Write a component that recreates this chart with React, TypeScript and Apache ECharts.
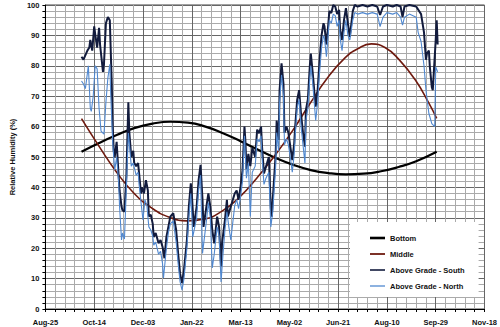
import React, { useEffect, useRef } from "react";
import * as echarts from "echarts";

// Day offsets from Aug-25 (x axis ticks every 50 days)
const xLabels = ["Aug-25", "Oct-14", "Dec-03", "Jan-22", "Mar-13", "May-02", "Jun-21", "Aug-10", "Sep-29", "Nov-18"];

const bottomData: [number, number][] = [
  [37, 51.7], [55, 54.6], [73, 57.2], [91, 59.5], [110, 61.0], [128, 61.6], [146, 61.3], [164, 60.0],
  [182, 57.8], [200, 55.2], [218, 52.4], [236, 49.7], [254, 47.4], [272, 45.7], [290, 44.7], [308, 44.3],
  [326, 44.5], [344, 45.3], [362, 46.7], [380, 48.6], [401, 51.7],
];

const middleData: [number, number][] = [
  [37, 62.6], [55, 53.5], [73, 45.0], [91, 38.0], [109, 33.2], [127, 30.2], [145, 29.0], [163, 29.6],
  [181, 32.2], [199, 36.8], [217, 43.2], [235, 50.4], [253, 58.5], [271, 67.5], [289, 76.0], [307, 82.6],
  [320, 85.6], [334, 87.2], [348, 86.0], [362, 82.2], [379, 75.4], [393, 67.7], [401, 62.7],
];

const southData: [number, number][] = [
  [37, 83], [39, 82], [41, 83.5], [43, 85], [45, 86], [46, 88.5], [48, 85], [50, 93], [51, 90.5], [53, 86],
  [55, 92.5], [56, 87], [59, 78], [60, 80.5], [62, 94], [64, 96], [66, 95], [68, 74], [69, 60], [70, 52],
  [71, 50], [73, 55], [75, 44], [76, 39], [78, 33.7], [79, 32.5], [81, 32], [83, 44], [85, 68], [86, 58],
  [88, 50], [90, 52], [91, 48], [93, 47], [95, 48], [96, 44.6], [98, 38], [99, 40], [101, 38], [103, 42.4],
  [105, 39], [106, 30.4], [108, 31], [110, 28], [111, 23.7], [113, 25], [116, 21.6], [118, 22.7], [120, 20.5],
  [122, 16.7], [124, 23.7], [126, 27], [128, 30.4], [131, 31.5], [134, 26], [136, 18.3], [138, 11.7],
  [140, 8.5], [142, 12.8], [145, 22.7], [147, 33.7], [149, 41.3], [150, 38], [152, 27], [155, 33.7],
  [157, 42.4], [159, 47.4], [161, 35.9], [162, 27], [165, 33.7], [167, 38], [169, 33.7], [171, 26],
  [173, 21.6], [176, 30.4], [178, 27], [180, 14], [181, 21.6], [184, 29.3], [186, 35.9], [187, 30.4],
  [189, 32.6], [191, 34.8], [194, 38], [196, 39], [198, 35.9], [200, 40.2], [202, 45.7], [204, 60],
  [205, 55], [206, 46], [208, 51], [210, 47], [212, 53], [215, 50], [217, 59], [219, 57.8], [221, 60],
  [222, 53.4], [224, 44.6], [226, 46.8], [229, 50], [231, 33], [232, 30.4], [233, 36], [236, 51],
  [237, 62], [239, 55.6], [240, 72], [242, 80.8], [244, 74], [245, 58], [247, 60], [249, 58], [251, 53.4],
  [253, 49], [255, 54.5], [256, 60], [258, 68.8], [260, 72], [262, 64], [264, 58], [266, 53.4], [267, 65.5],
  [269, 69], [271, 80], [272, 84], [274, 77.5], [276, 70], [277, 66.6], [279, 72], [281, 82], [283, 90],
  [285, 94], [286, 93], [288, 87], [290, 94], [291, 98], [293, 97.4], [295, 100], [297, 99.5], [299, 97],
  [301, 98.4], [302, 92], [304, 88.5], [306, 95], [308, 99], [310, 94], [312, 89.5], [315, 98], [317, 100],
  [320, 99.5], [325, 100], [330, 99.5], [335, 100], [340, 99.5], [343, 96.7], [346, 99.5], [350, 100],
  [356, 99.5], [360, 100], [364, 99.5], [366, 96], [368, 99.5], [373, 100], [380, 99.5], [385, 97],
  [388, 91], [390, 82], [391, 84], [393, 85], [394, 79.6], [396, 73], [397, 72], [398, 77.5], [400, 88.5],
  [401, 95], [402, 87],
];

const northData: [number, number][] = [
  [37, 75], [39, 74], [41, 72.5], [44, 80], [46, 66], [47, 65], [49, 70], [51, 80], [53, 79], [55, 66],
  [57, 58.5], [60, 57.5], [62, 68], [64, 76], [66, 80.5], [67, 70], [69, 54.5], [71, 45.7], [73, 50],
  [75, 42], [76, 33.7], [78, 22.7], [79, 25], [81, 23], [83, 40], [85, 57.9], [86, 54.5], [88, 47], [90, 48],
  [93, 44], [95, 45], [96, 41], [98, 35], [100, 29.3], [102, 36], [104, 34], [106, 27], [108, 26], [110, 24],
  [111, 21], [113, 22], [116, 18], [118, 19], [120, 15], [121, 10.2], [124, 20], [126, 25], [128, 28],
  [131, 29], [134, 22], [136, 15], [138, 9], [140, 6.2], [142, 10], [145, 20], [147, 30], [149, 38],
  [151, 23.7], [155, 30], [157, 39], [159, 44], [161, 18.3], [165, 29], [167, 35], [169, 30], [171, 13.5],
  [173, 18], [176, 27], [178, 24], [180, 8.9], [182, 18], [184, 26], [186, 32], [188, 27], [190, 22.7],
  [194, 34], [196, 36], [198, 33], [200, 37], [202, 42], [204, 57], [206, 43], [208, 48], [210, 30.4],
  [212, 45], [215, 47], [217, 56], [219, 55], [221, 57], [222, 50], [224, 41], [226, 43], [229, 45],
  [231, 27], [233, 32], [236, 47], [237, 58], [239, 52], [240, 68], [242, 77], [244, 70], [245, 54],
  [247, 56], [249, 54], [251, 50], [253, 45], [255, 51], [256, 57], [258, 66], [260, 69], [262, 60],
  [264, 54], [266, 48], [267, 62], [269, 66], [271, 76], [272, 80], [274, 74], [276, 66], [277, 62],
  [279, 68], [281, 78], [283, 86], [285, 90], [286, 89], [288, 83], [290, 91], [291, 95], [293, 94],
  [295, 97], [297, 96.5], [299, 93], [301, 95], [302, 89], [304, 85], [306, 91], [308, 95], [310, 90],
  [312, 88.5], [315, 95], [317, 97.5], [320, 97], [325, 97.5], [330, 97], [335, 97.5], [340, 97],
  [343, 92.9], [346, 96], [350, 97.5], [356, 97], [360, 97.5], [364, 96], [366, 93.4], [368, 96],
  [373, 97], [380, 96], [382, 91], [385, 88], [388, 80], [390, 72], [393, 64.3], [396, 61], [399, 60],
  [400, 79.6], [402, 78],
];

const FONT = "'Liberation Sans Narrow', 'Arial Narrow', 'Liberation Sans', sans-serif";

// legend line icons: a bar of given thickness centred in an 8-unit-tall box
const lineIcon = (t: number) =>
  `path://M0,0L0,0M0,${4 - t / 2}L15,${4 - t / 2}L15,${4 + t / 2}L0,${4 + t / 2}ZM0,8L0,8`;

export default function App() {
  const ref = useRef<HTMLDivElement>(null);
  useEffect(() => {
    if (!ref.current) return;
    const chart = echarts.init(ref.current, undefined, { renderer: "svg" });
    const labelStyle = { fontFamily: FONT, fontSize: 7.5, fontWeight: "bold" as const, color: "#111" };
    chart.setOption({
      animation: false,
      backgroundColor: "#fff",
      grid: { left: 37, right: 13, top: 5, bottom: 18, show: true, borderColor: "#444", borderWidth: 1 },
      xAxis: {
        type: "value",
        min: 0,
        max: 450,
        interval: 50,
        axisLine: { show: true, onZero: false, lineStyle: { color: "#000", width: 1 } },
        axisTick: { show: true, length: 3, lineStyle: { color: "#000" } },
        minorTick: { show: true, splitNumber: 5, length: 3, lineStyle: { color: "#000" } },
        axisLabel: {
          ...labelStyle,
          margin: 9,
          formatter: (v: number) => xLabels[Math.round(v / 50)] ?? "",
        },
        splitLine: { show: true, lineStyle: { color: "#666", width: 1 } },
        minorSplitLine: { show: true, lineStyle: { color: "#aaaaaa", width: 1 } },
      },
      yAxis: {
        type: "value",
        min: 0,
        max: 100,
        interval: 10,
        name: "Relative Humidity (%)",
        nameLocation: "middle",
        nameGap: 26,
        nameTextStyle: { fontFamily: FONT, fontSize: 7.5, fontWeight: "bold", color: "#111" },
        axisLine: { show: true, lineStyle: { color: "#000", width: 1 } },
        axisTick: { show: true, length: 3, lineStyle: { color: "#000" } },
        minorTick: { show: true, splitNumber: 5, length: 3, lineStyle: { color: "#000" } },
        axisLabel: { ...labelStyle, margin: 6 },
        splitLine: { show: true, lineStyle: { color: "#666", width: 1 } },
        minorSplitLine: { show: true, lineStyle: { color: "#aaaaaa", width: 1 } },
      },
      legend: {
        orient: "vertical",
        left: 350,
        top: 222,
        backgroundColor: "#fff",
        padding: [12, 14, 7, 20],
        itemWidth: 15,
        itemHeight: 8,
        itemGap: 8,
        textStyle: { fontFamily: FONT, fontSize: 7.5, fontWeight: "bold", color: "#111" },
        data: [
          { name: "Bottom", icon: lineIcon(2.6), itemStyle: { color: "#000" } },
          { name: "Middle", icon: lineIcon(1.8), itemStyle: { color: "#6e1a0f" } },
          { name: "Above Grade - South", icon: lineIcon(1.6), itemStyle: { color: "#121b3d" } },
          { name: "Above Grade - North", icon: lineIcon(1.3), itemStyle: { color: "#5088d0" } },
        ],
      },
      series: [
        {
          name: "Bottom",
          type: "line",
          data: bottomData,
          smooth: true,
          symbol: "none",
          lineStyle: { color: "#000", width: 2.2 },
          itemStyle: { color: "#000" },
        },
        {
          name: "Middle",
          type: "line",
          data: middleData,
          smooth: true,
          symbol: "none",
          lineStyle: { color: "#6e1a0f", width: 1.6 },
          itemStyle: { color: "#6e1a0f" },
        },
        {
          name: "Above Grade - South",
          type: "line",
          data: southData,
          symbol: "none",
          lineStyle: { color: "#121b3d", width: 2 },
          itemStyle: { color: "#121b3d" },
        },
        {
          name: "Above Grade - North",
          type: "line",
          data: northData,
          symbol: "none",
          lineStyle: { color: "#5088d0", width: 1.1 },
          itemStyle: { color: "#5088d0" },
        },
      ],
    });
    return () => chart.dispose();
  }, []);
  return <div ref={ref} style={{ position: "fixed", left: 0, top: 0, width: 500, height: 327 }} />;
}
